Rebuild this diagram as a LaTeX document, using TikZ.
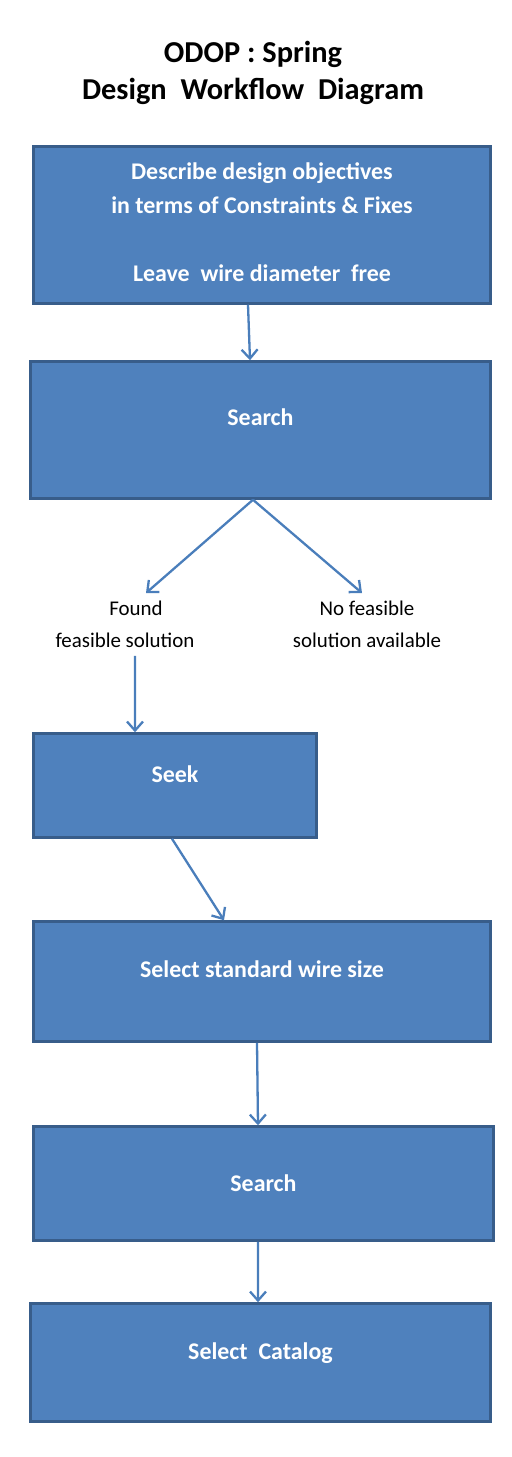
\documentclass[tikz,border=0pt]{standalone}
\usepackage{fontspec}
\setmainfont{Carlito}
\usetikzlibrary{arrows.meta}
\definecolor{boxfill}{HTML}{4F81BD}
\definecolor{boxline}{HTML}{385D8A}
\definecolor{flowline}{HTML}{4A7EBB}
\tikzset{
  stepbox/.style={draw=boxline,fill=boxfill,line width=2.5bp,text=white,
    font=\fontsize{24}{34.3}\selectfont\bfseries,align=center,inner sep=0pt},
  liftby/.style={text height=15.5bp,text depth=#1},
  outcome/.style={font=\fontsize{21}{32}\selectfont,align=center,inner xsep=0pt,inner ysep=8bp},
  flow/.style={draw=flowline,line width=2.3bp,-{Straight Barb[length=9bp,width=16bp]}}
}
\begin{document}
\begin{tikzpicture}[x=1bp,y=-1bp]
\useasboundingbox (0,0) rectangle (512,1457);
\node[font=\fontsize{30.5}{37}\selectfont\bfseries,align=center] (title) at (253,73)
  {ODOP : Spring\\Design\ \ Workflow\ \ Diagram};
\node[stepbox,text depth=6bp,minimum width=457bp,minimum height=157bp] (describe) at (262,225)
  {Describe design objectives\\in terms of Constraints \& Fixes\\\mbox{}\\Leave\ \ wire diameter\ \ free};
\node[stepbox,liftby=24bp,minimum width=460bp,minimum height=137bp] (search) at (260.5,430) {Search};
\node[outcome] (found) at (125,624.5) {\hspace*{22bp}Found\\feasible solution};
\node[outcome] (nofeasible) at (367,624.5) {No feasible\\solution available};
\node[stepbox,liftby=21bp,minimum width=283bp,minimum height=104bp] (seek) at (175,785.5) {Seek};
\node[stepbox,liftby=23bp,minimum width=457bp,minimum height=120bp] (wiresize) at (262,981.5) {Select standard wire size};
\node[stepbox,liftby=0bp,minimum width=460bp,minimum height=114bp] (research) at (263.5,1183.5) {Search};
\node[stepbox,liftby=21bp,minimum width=460bp,minimum height=118bp] (catalog) at (260.5,1362.5) {Select\ \ Catalog};
\draw[flow] ([xshift=-14bp]describe.south) -- ([xshift=-10.5bp]search.north);
\draw[flow] ([xshift=-7.5bp]search.south) -- ([xshift=21bp]found.north);
\draw[flow] ([xshift=-7.5bp]search.south) -- ([xshift=-5bp]nofeasible.north);
\draw[flow] ([xshift=10bp]found.south) -- ([xshift=-40bp]seek.north);
\draw[flow] ([xshift=-3bp]seek.south) -- ([xshift=-38bp]wiresize.north);
\draw[flow] ([xshift=-5bp]wiresize.south) -- ([xshift=-5.5bp]research.north);
\draw[flow] ([xshift=-5.5bp]research.south) -- ([xshift=-2.5bp]catalog.north);
\end{tikzpicture}
\end{document}
